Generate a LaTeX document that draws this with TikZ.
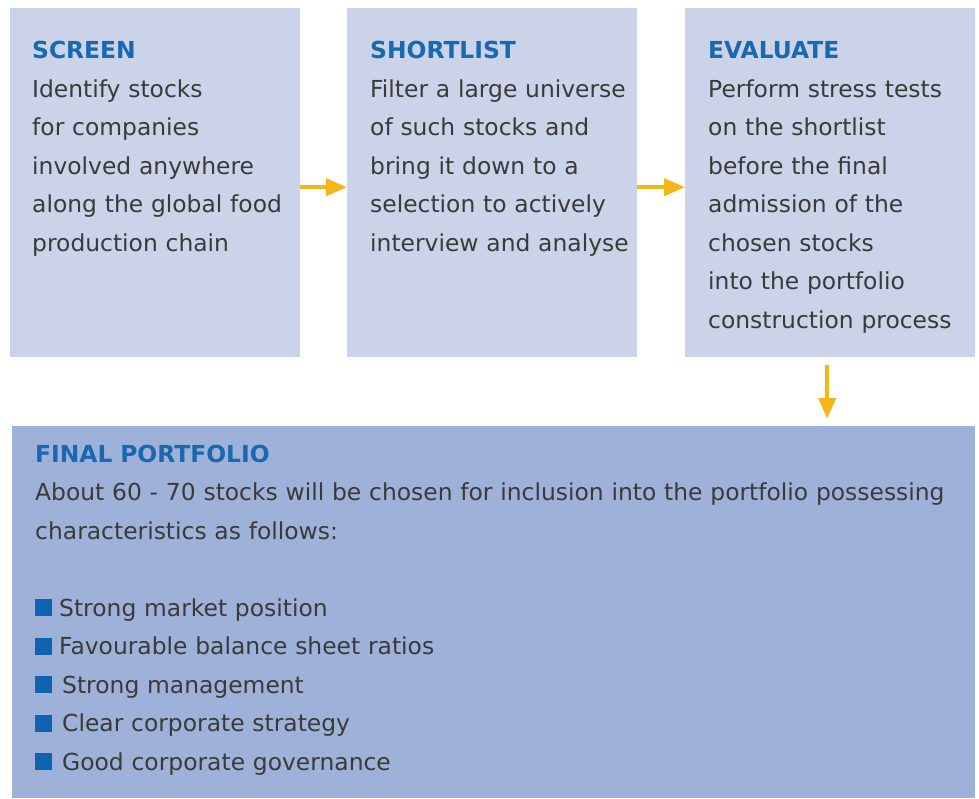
\documentclass[tikz,border=0pt]{standalone}
\usepackage{fontspec}
\setmainfont{DejaVu Sans}
\usetikzlibrary{arrows.meta}
\definecolor{steplight}{HTML}{CBD3E8}
\definecolor{finalfill}{HTML}{9EB1D8}
\definecolor{headblue}{HTML}{1A68B0}
\definecolor{bodygrey}{HTML}{3A3A3A}
\definecolor{bulletblue}{HTML}{0F62AE}
\definecolor{flowgold}{HTML}{F5B61A}
\newcommand{\sqbullet}{\textcolor{bulletblue}{\rule{17pt}{17pt}}}
\begin{document}
\begin{tikzpicture}[x=1pt,y=-1pt,
  stepbox/.style={fill=steplight,draw=none,anchor=north west,inner sep=0pt,
    minimum width=290pt,minimum height=349pt},
  finalbox/.style={fill=finalfill,draw=none,anchor=north west,inner sep=0pt,
    minimum width=963pt,minimum height=372pt},
  bodytext/.style={anchor=base west,inner sep=0pt,align=left,text=bodygrey,
    font=\fontsize{23.4}{38.5}\selectfont},
  flow/.style={draw=flowgold,line width=4pt,-{Triangle[width=17pt,length=21pt]}}]
\useasboundingbox (0,0) rectangle (979,799);

% three process steps
\node[stepbox] (screen) at (10,8) {};
\node[stepbox] (shortlist) at (347,8) {};
\node[stepbox] (evaluate) at (685,8) {};
\node[finalbox] (final) at (12,426) {};

\node[bodytext,text width=300pt] (screentxt) at ([shift={(22,51)}]screen.north west)
  {{\bfseries\color{headblue}SCREEN}\\
   Identify stocks\\
   for companies\\
   involved anywhere\\
   along the global food\\
   production chain};
\node[bodytext,text width=300pt] (shortlisttxt) at ([shift={(23,51)}]shortlist.north west)
  {{\bfseries\color{headblue}SHORTLIST}\\
   Filter a large universe\\
   of such stocks and\\
   bring it down to a\\
   selection to actively\\
   interview and analyse};
\node[bodytext,text width=300pt] (evaluatetxt) at ([shift={(23,51)}]evaluate.north west)
  {{\bfseries\color{headblue}EVALUATE}\\
   Perform stress tests\\
   on the shortlist\\
   before the final\\
   admission of the\\
   chosen stocks\\
   into the portfolio\\
   construction process};

% resulting portfolio
\node[bodytext,text width=940pt] (finaltxt) at ([shift={(23,36)}]final.north west)
  {{\bfseries\color{headblue}FINAL PORTFOLIO}\\
   About 60 - 70 stocks will be chosen for inclusion into the portfolio possessing\\
   characteristics as follows:\\[38.5pt]
   \sqbullet\hspace{7pt}Strong market position\\
   \sqbullet\hspace{7pt}Favourable balance sheet ratios\\
   \sqbullet\hspace{10pt}Strong management\\
   \sqbullet\hspace{10pt}Clear corporate strategy\\
   \sqbullet\hspace{10pt}Good corporate governance};

% flow connectors
\draw[flow] ([yshift=-4.5pt]screen.east) -- ([yshift=-4.5pt]shortlist.east -| shortlist.west);
\draw[flow] ([yshift=-4.5pt]shortlist.east) -- ([yshift=-4.5pt]evaluate.east -| evaluate.west);
\draw[flow,shorten <=8pt,shorten >=7pt] ([xshift=-3pt]evaluate.south) -- ([xshift=-3pt]evaluate.south |- final.north);
\end{tikzpicture}
\end{document}
